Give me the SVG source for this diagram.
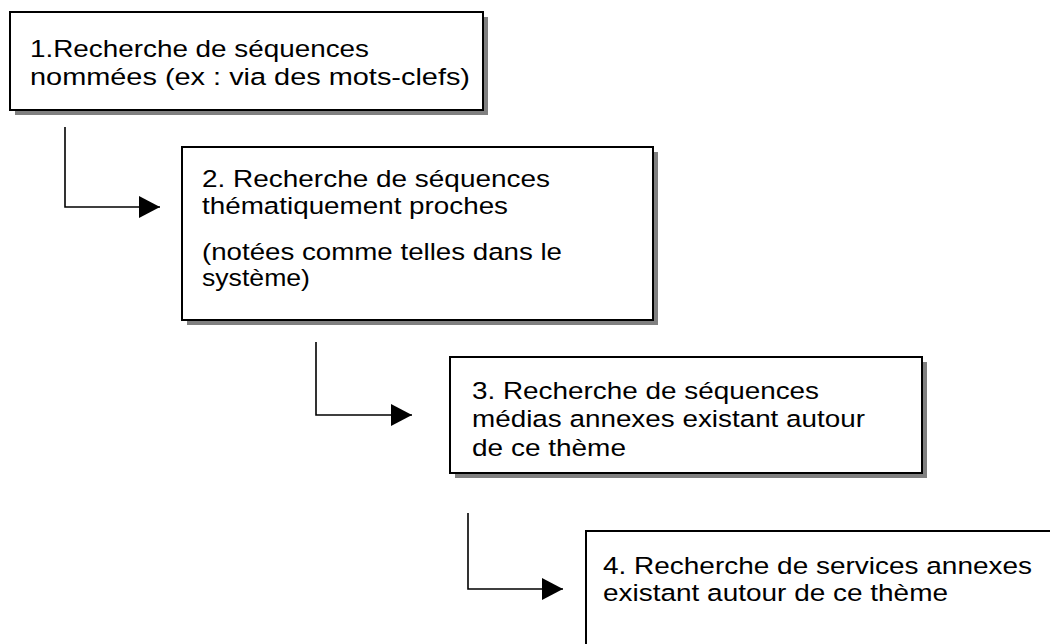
<svg xmlns="http://www.w3.org/2000/svg" width="1050" height="644" viewBox="0 0 1050 644">
<style>
.shadow{fill:#808080;stroke:none}
.box{fill:#ffffff;stroke:#000000;stroke-width:2}
.lbl{font-family:"Liberation Sans",Arial,sans-serif;font-size:24.5px;fill:#000000}
.conn{fill:none;stroke:#000000;stroke-width:1.6}
</style>
<defs>
<marker id="arr" markerUnits="userSpaceOnUse" markerWidth="22" markerHeight="24" refX="21" refY="11" orient="auto">
<path d="M0,0 L21,11 L0,22 Z" fill="#000000"/>
</marker>
</defs>
<rect width="1050" height="644" fill="#ffffff"/>
<g id="node1">
<rect class="shadow" x="15" y="17" width="473" height="98"/>
<rect class="box" x="10" y="12" width="473" height="98"/>
<text class="lbl" x="30" y="57" textLength="339" lengthAdjust="spacingAndGlyphs">1.Recherche de séquences</text>
<text class="lbl" x="30" y="85" textLength="440" lengthAdjust="spacingAndGlyphs">nommées (ex : via des mots-clefs)</text>
</g>
<g id="node2">
<rect class="shadow" x="187" y="152" width="471" height="173"/>
<rect class="box" x="182" y="147" width="471" height="173"/>
<text class="lbl" x="202" y="187" textLength="348" lengthAdjust="spacingAndGlyphs">2. Recherche de séquences</text>
<text class="lbl" x="202" y="214" textLength="306" lengthAdjust="spacingAndGlyphs">thématiquement proches</text>
<text class="lbl" x="202" y="260" textLength="360" lengthAdjust="spacingAndGlyphs">(notées comme telles dans le</text>
<text class="lbl" x="202" y="286" textLength="108" lengthAdjust="spacingAndGlyphs">système)</text>
</g>
<g id="node3">
<rect class="shadow" x="455" y="362" width="472" height="116"/>
<rect class="box" x="450" y="357" width="472" height="116"/>
<text class="lbl" x="472" y="399" textLength="347" lengthAdjust="spacingAndGlyphs">3. Recherche de séquences</text>
<text class="lbl" x="472" y="427" textLength="393" lengthAdjust="spacingAndGlyphs">médias annexes existant autour</text>
<text class="lbl" x="472" y="456" textLength="154" lengthAdjust="spacingAndGlyphs">de ce thème</text>
</g>
<g id="node4">
<rect class="box" x="586" y="531" width="480" height="130"/>
<text class="lbl" x="603" y="574" textLength="429" lengthAdjust="spacingAndGlyphs">4. Recherche de services annexes</text>
<text class="lbl" x="603" y="601" textLength="345" lengthAdjust="spacingAndGlyphs">existant autour de ce thème</text>
</g>
<g id="connectors">
<path class="conn" d="M65,127 V207 H160" marker-end="url(#arr)"/>
<path class="conn" d="M316,342 V415 H412" marker-end="url(#arr)"/>
<path class="conn" d="M468,513 V589 H563" marker-end="url(#arr)"/>
</g>
</svg>
